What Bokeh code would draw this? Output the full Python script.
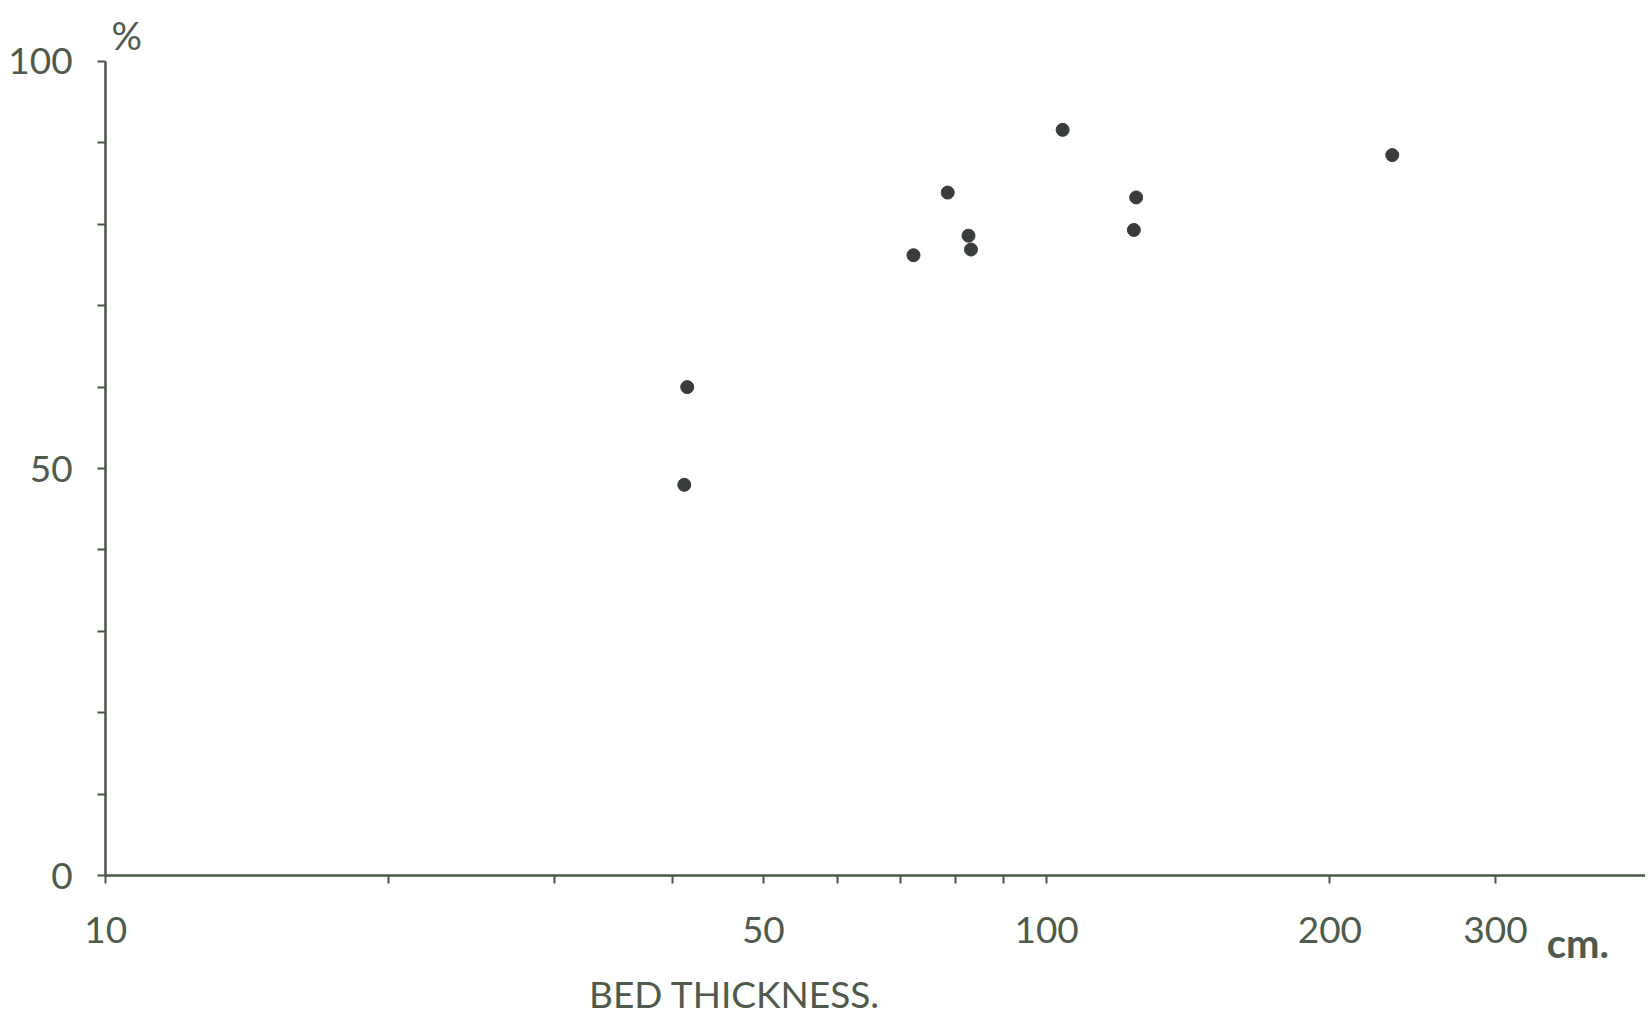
from bokeh.plotting import figure
from bokeh.models import Range1d, FixedTicker, Label, ColumnDataSource
from bokeh.embed import file_html
from bokeh.resources import INLINE

# Data
thickness_cm = [41.5, 41.2, 72.2, 78.5, 82.6, 83.1, 104.0, 124.5, 123.8, 233.0]
percent = [60.0, 48.0, 76.2, 83.9, 78.6, 76.9, 91.6, 83.3, 79.3, 88.5]

x_ticks = [10, 20, 30, 40, 50, 60, 70, 80, 90, 100, 200, 300]
x_labels = {10: "10", 50: "50", 100: "100", 200: "200", 300: "300"}
y_ticks = [0, 10, 20, 30, 40, 50, 60, 70, 80, 90, 100]
y_labels = {0: "0", 50: "50", 100: "100"}
x_unit = "cm."
x_title = "BED THICKNESS."
y_unit = "%"

INK = "#4a5647"
TEXT = "#4f5a4c"
DOT = "#383d39"
FONT = "Lato"

# frame fills the canvas; axes float at x=10 and y=0
p = figure(width=1645, height=1017, x_axis_type="log",
           x_range=Range1d(7.73, 433), y_range=Range1d(-17.44, 107.49),
           output_backend="svg", toolbar_location=None, min_border=0)
p.outline_line_color = None
p.grid.visible = False
p.background_fill_color = "white"
p.border_fill_color = "white"

src = ColumnDataSource(dict(x=thickness_cm, y=percent))
p.scatter("x", "y", source=src, size=13, fill_color=DOT, line_color=DOT)

for ax in (p.xaxis[0], p.yaxis[0]):
    ax.axis_line_color = INK
    ax.axis_line_width = 2.5
    ax.major_tick_line_color = INK
    ax.major_tick_line_width = 2
    ax.major_tick_in = 0
    ax.major_tick_out = 8
    ax.minor_tick_line_color = None
    ax.major_label_text_color = TEXT
    ax.major_label_text_font = FONT
    ax.major_label_text_font_size = "37px"
    ax.axis_label = None

xa = p.xaxis[0]
xa.fixed_location = 0
xa.bounds = (10, 433)
xa.ticker = FixedTicker(ticks=x_ticks)
xa.major_label_overrides = {t: x_labels.get(t, "") for t in x_ticks}
xa.major_label_standoff = 33

ya = p.yaxis[0]
ya.fixed_location = 10
ya.bounds = (0, 100)
ya.ticker = FixedTicker(ticks=y_ticks)
ya.major_label_overrides = {t: y_labels.get(t, "") for t in y_ticks}
ya.major_label_standoff = 25

p.add_layout(Label(x=10.53, y=103.2, text=y_unit, text_font=FONT, text_font_size="38px",
                   text_color=TEXT, text_align="center", text_baseline="middle"))
p.add_layout(Label(x=340, y=-8.3, text=x_unit, text_font=FONT, text_font_size="40px",
                   text_font_style="bold", text_color=TEXT, text_align="left",
                   text_baseline="middle"))
p.add_layout(Label(x=46.6, y=-14.5, text=x_title, text_font=FONT, text_font_size="37px",
                   text_color=TEXT, text_align="center", text_baseline="middle"))

open("out.html", "w").write(file_html(p, INLINE))
